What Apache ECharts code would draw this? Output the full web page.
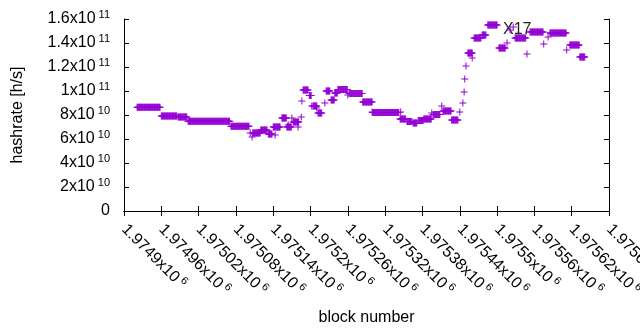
<!DOCTYPE html>
<html>
<head>
<meta charset="utf-8">
<script src="https://cdn.jsdelivr.net/npm/echarts@6/dist/echarts.min.js"></script>
<style>
  html, body { margin: 0; padding: 0; background: #fff; }
  #chart { width: 640px; height: 330px; }
</style>
</head>
<body>
<div id="chart"></div>
<script>
// x axis
const xMin = 1974900;
const xMax = 1975680;
const xStep = 60;
const xTickLabels = ['1.9749x10^6', '1.97496x10^6', '1.97502x10^6', '1.97508x10^6', '1.97514x10^6',
  '1.9752x10^6', '1.97526x10^6', '1.97532x10^6', '1.97538x10^6', '1.97544x10^6',
  '1.9755x10^6', '1.97556x10^6', '1.97562x10^6', '1.97568x10^6'];

// y axis
const yMax = 1.6e11;
const yStep = 2e10;
const yTickLabels = ['0', '2x10^10', '4x10^10', '6x10^10', '8x10^10',
  '1x10^11', '1.2x10^11', '1.4x10^11', '1.6x10^11'];

// hashrate per block, stored as runs: every block from runFirst to runLast has runHashrate
const runFirst = [1974921, 1974960, 1974987, 1975003, 1975072, 1975103, 1975106, 1975107, 1975120, 1975132,
  1975140, 1975141, 1975143, 1975156, 1975154, 1975164, 1975162, 1975170, 1975172, 1975180,
  1975185, 1975186, 1975188, 1975198, 1975202, 1975204, 1975210, 1975212, 1975223, 1975225,
  1975233, 1975239, 1975244, 1975260, 1975262, 1975284, 1975299, 1975300, 1975345, 1975344,
  1975355, 1975365, 1975373, 1975382, 1975395, 1975397, 1975411, 1975413, 1975427, 1975440,
  1975445, 1975447, 1975448, 1975450, 1975453, 1975460, 1975463, 1975476, 1975485, 1975503,
  1975516, 1975521, 1975526, 1975529, 1975548, 1975553, 1975575, 1975582, 1975585, 1975612,
  1975617, 1975633];
const runLast = [1974958, 1974985, 1975001, 1975070, 1975101, 1975103, 1975106, 1975119, 1975130, 1975138,
  1975140, 1975151, 1975143, 1975156, 1975161, 1975164, 1975169, 1975170, 1975181, 1975180,
  1975185, 1975186, 1975196, 1975201, 1975202, 1975210, 1975210, 1975218, 1975223, 1975231,
  1975238, 1975243, 1975259, 1975260, 1975283, 1975299, 1975299, 1975342, 1975345, 1975353,
  1975363, 1975371, 1975381, 1975394, 1975395, 1975408, 1975411, 1975426, 1975437, 1975440,
  1975445, 1975447, 1975448, 1975450, 1975460, 1975460, 1975474, 1975482, 1975500, 1975513,
  1975516, 1975521, 1975526, 1975546, 1975548, 1975574, 1975575, 1975582, 1975611, 1975612,
  1975632, 1975641];
const runHashrate = [8.64e10, 7.92e10, 7.83e10, 7.48e10, 7.06e10, 6.5e10, 6.17e10, 6.5e10, 6.75e10, 6.42e10,
  7.0e10, 7.0e10, 6.33e10, 7.75e10, 7.75e10, 7.17e10, 7.0e10, 7.75e10, 7.42e10, 7.0e10,
  7.83e10, 9.17e10, 10.08e10, 9.63e10, 8.75e10, 8.75e10, 8.58e10, 8.17e10, 9.0e10, 10.0e10,
  9.25e10, 9.83e10, 10.13e10, 9.67e10, 9.79e10, 9.08e10, 8.25e10, 8.21e10, 8.25e10, 7.67e10,
  7.46e10, 7.33e10, 7.54e10, 7.67e10, 8.17e10, 8.04e10, 8.75e10, 8.33e10, 7.58e10, 8.25e10,
  9.0e10, 9.92e10, 11.0e10, 12.08e10, 13.17e10, 12.75e10, 14.42e10, 14.67e10, 15.5e10, 13.58e10,
  14.0e10, 15.08e10, 15.33e10, 14.42e10, 13.08e10, 14.92e10, 13.92e10, 14.5e10, 14.83e10, 13.42e10,
  13.83e10, 12.83e10];

const points = [];
runFirst.forEach((first, i) => {
  for (let b = first; b <= runLast[i]; b++) {
    points.push([b, runHashrate[i]]);
  }
});

// gnuplot style "1.2x10^11" -> rich text with superscript
function supLabel(label) {
  const parts = label.split('^');
  if (parts.length < 2) return '{b|' + parts[0] + '}';
  return '{b|' + parts[0] + '}{s| ' + parts[1] + '}';
}
const rich = {
  b: { fontFamily: 'Liberation Sans', fontSize: 16, lineHeight: 20, color: '#000' },
  s: { fontFamily: 'Liberation Sans', fontSize: 11, lineHeight: 11, verticalAlign: 'top', color: '#000' }
};

const plus = 'path://M3,0H4V3H7V4H4V7H3V4H0V3H3Z';
const tickStyle = { show: true, inside: true, length: 5, lineStyle: { color: '#000', width: 1 } };
const lineStyle = { show: true, lineStyle: { color: '#000', width: 1 } };

const chart = echarts.init(document.getElementById('chart'), null, { renderer: 'canvas' });
chart.setOption({
  animation: false,
  backgroundColor: '#fff',
  grid: { left: 124, right: 31, top: 19, bottom: 119, show: false, containLabel: false, outerBoundsMode: 'none' },
  xAxis: [{
    type: 'value', min: xMin, max: xMax, interval: xStep,
    position: 'bottom',
    name: 'block number', nameLocation: 'middle', nameGap: 99,
    nameTextStyle: { fontFamily: 'Liberation Sans', fontSize: 16, color: '#000' },
    axisLine: lineStyle, axisTick: tickStyle, splitLine: { show: false },
    axisLabel: {
      rotate: -45, margin: 16, hideOverlap: false,
      formatter: v => supLabel(xTickLabels[Math.round((v - xMin) / xStep)] || ''),
      rich: rich
    }
  }, {
    type: 'value', min: xMin, max: xMax, interval: xStep,
    position: 'top',
    axisLine: lineStyle, axisTick: tickStyle, axisLabel: { show: false }, splitLine: { show: false }
  }],
  yAxis: [{
    type: 'value', min: 0, max: yMax, interval: yStep,
    position: 'left',
    name: 'hashrate [h/s]', nameLocation: 'middle', nameGap: 98, nameRotate: 90,
    nameTextStyle: { fontFamily: 'Liberation Sans', fontSize: 16, color: '#000' },
    axisLine: lineStyle, axisTick: tickStyle, splitLine: { show: false },
    axisLabel: {
      margin: 14,
      formatter: v => supLabel(yTickLabels[Math.round(v / yStep)] || ''),
      rich: rich
    }
  }, {
    type: 'value', min: 0, max: yMax, interval: yStep,
    position: 'right',
    axisLine: lineStyle, axisTick: tickStyle, axisLabel: { show: false }, splitLine: { show: false }
  }],
  graphic: [{
    type: 'text', left: 503, top: 22, z: 0,
    style: { text: 'X17', fontFamily: 'Liberation Sans', fontSize: 16, fill: '#222' }
  }],
  series: [{
    type: 'scatter',
    xAxisIndex: 0, yAxisIndex: 0,
    symbol: plus, symbolSize: 7,
    itemStyle: { color: '#9400d3', opacity: 1 },
    data: points,
    z: 5
  }]
});
</script>
</body>
</html>
